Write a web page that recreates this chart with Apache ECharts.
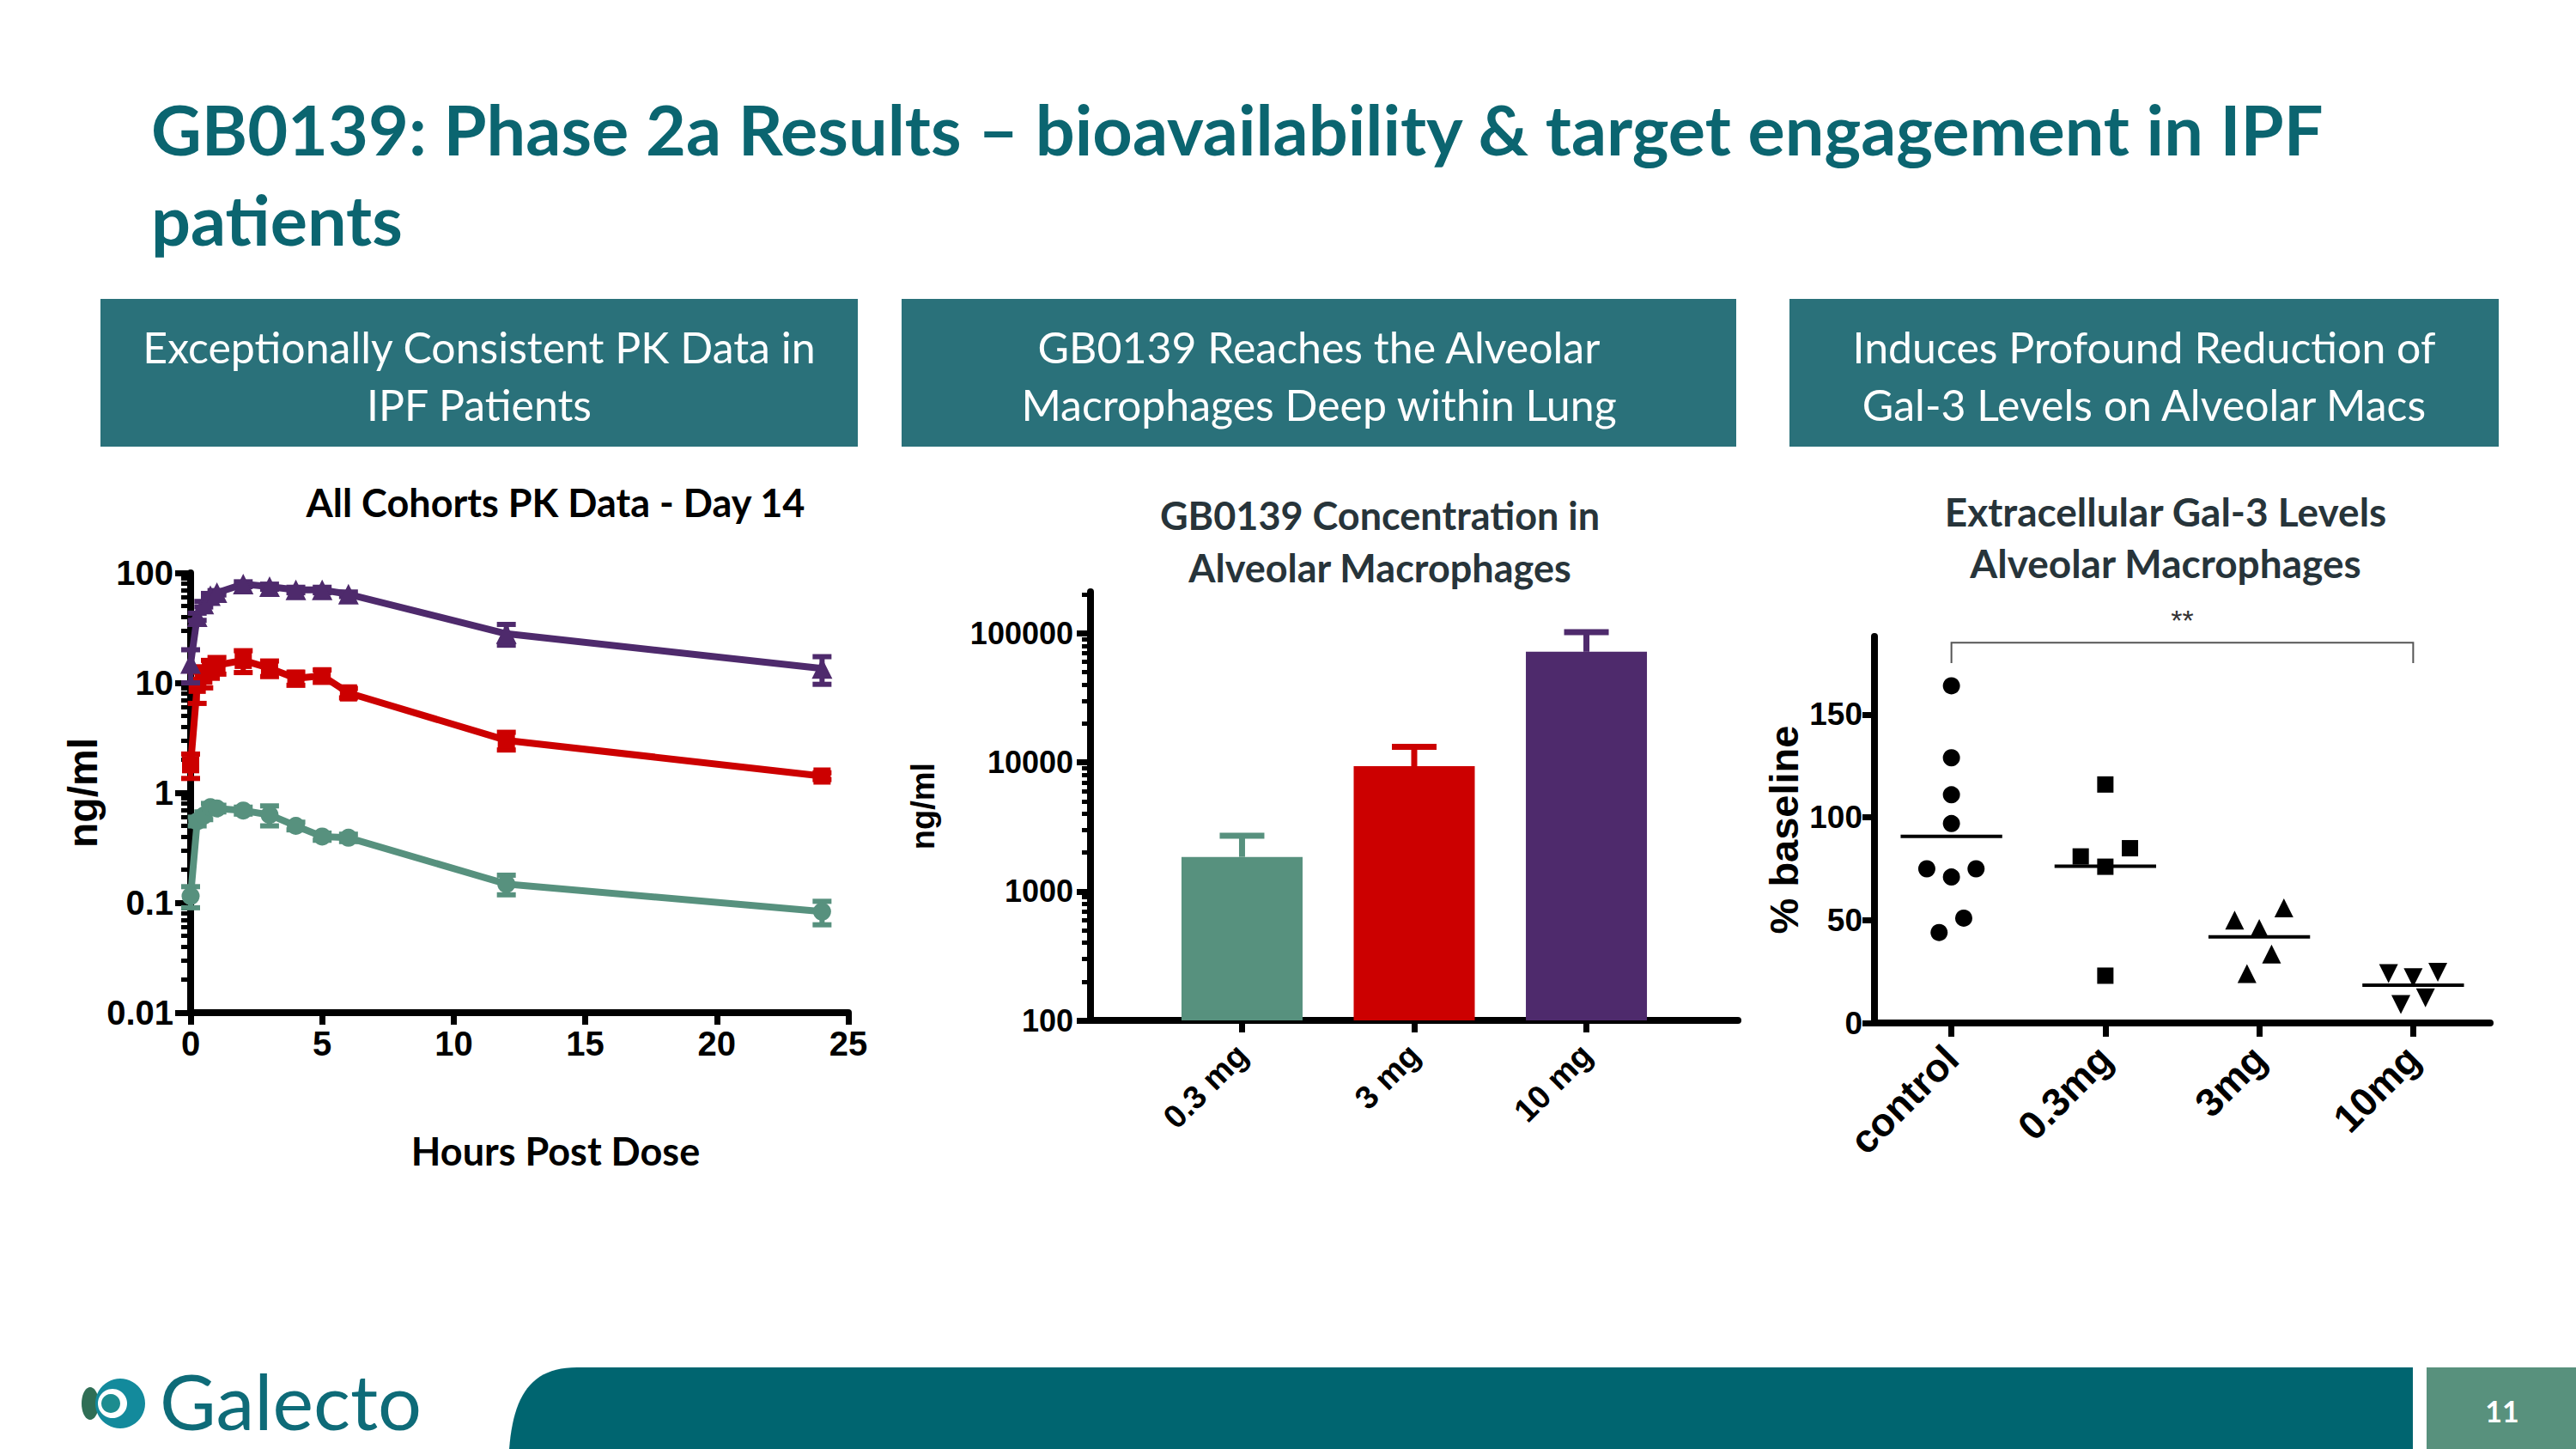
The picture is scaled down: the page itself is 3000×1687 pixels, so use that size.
<!DOCTYPE html>
<html><head><meta charset="utf-8">
<script src="https://cdn.jsdelivr.net/npm/echarts@6/dist/echarts.min.js"></script>
<style>html,body{margin:0;padding:0;background:#fff;}#c{width:3000px;height:1687px;}</style>
</head><body><div id="c"></div>
<script>
// ---------------- DATA ----------------
// PK, Day 14 (ng/ml): mean and SD per cohort
const pkHours   = [0, 0.25, 0.5, 0.75, 1, 2, 3, 4, 5, 6, 12, 24];
const pk10mg    = [15, 40, 52, 62, 66, 79, 75, 70, 70, 64, 28, 13.5];
const pk10mgSD  = [5, 3, 3, 3, 3, 4, 4, 4, 4, 3, 6, 3.8];
const pk3mg     = [1.8, 9.5, 11.5, 13.5, 14.5, 16, 13.6, 11, 11.6, 8.1, 3.0, 1.42];
const pk3mgSD   = [0.45, 3, 2.5, 2.5, 2.5, 3.6, 2.2, 1.5, 1.5, 0.8, 0.55, 0.1];
const pk03mg    = [0.115, 0.55, 0.62, 0.74, 0.72, 0.69, 0.63, 0.50, 0.40, 0.39, 0.148, 0.083];
const pk03mgSD  = [0.025, 0.05, 0.05, 0.06, 0.05, 0.05, 0.13, 0.04, 0.03, 0.03, 0.03, 0.02];
const pkYTicks  = [0.01, 0.1, 1, 10, 100];
const pkXTicks  = [0, 5, 10, 15, 20, 25];

// GB0139 concentration in alveolar macrophages (ng/ml)
const amDoses   = ['0.3 mg', '3 mg', '10 mg'];
const amConc    = [1850, 9350, 72000];
const amSD      = [850, 3850, 30000];
const amYTicks  = [100, 1000, 10000, 100000];

// Extracellular Gal-3 levels (% baseline)
const galGroups  = ['control', '0.3mg', '3mg', '10mg'];
const galControl = [164, 129, 111, 97, 75, 75, 71, 51, 44];
const gal03mg    = [116, 81, 76, 85, 23];
const gal3mg     = [50, 46, 56, 33.5, 24];
const gal10mg    = [24, 22, 24.6, 9, 12.2];
const galYTicks  = [0, 50, 100, 150];
const sigGroups  = [1, 4];
const sigLabel   = '**';

// ---------------- LAYOUT / STYLE ----------------
const AX = '"Liberation Sans", Arial, sans-serif';
const TF = 'Lato, "Open Sans", sans-serif';
const PURPLE = '#4e2a6c', RED = '#cc0000', GREEN = '#57917e';
const TEAL = '#0b6570', BOX = '#2a717a';
const galJitter = [[0,0,0,0,-0.16,0.16,0,0.08,-0.08],[0,-0.16,0,0.16,0],[-0.16,0,0.16,0.08,-0.08],[-0.16,0,0.16,-0.08,0.08]];
const galSets = [galControl, gal03mg, gal3mg, gal10mg];
const galSym = [
  {symbol:'circle', size:20, rot:0},
  {symbol:'rect', size:19, rot:0},
  {symbol:'triangle', size:22, rot:0},
  {symbol:'triangle', size:22, rot:180}
];
const sigY = [175, 185];

function minorLog(lo, hi) {
  const out = [];
  for (let e = Math.floor(Math.log10(lo)); e <= Math.ceil(Math.log10(hi)); e++) {
    for (let k = 2; k <= 9; k++) { const v = k * Math.pow(10, e); if (v > lo && v < hi) out.push(+v.toPrecision(6)); }
  }
  return out;
}
const fmt = v => String(+(+v).toPrecision(6));

function errRender(color, capHalf, lw, both) {
  return function (params, api) {
    const x = api.value(0);
    const lo = api.coord([x, api.value(1)]);
    const hi = api.coord([x, api.value(2)]);
    const st = {stroke: color, lineWidth: lw, lineCap: 'butt'};
    const ch = [
      {type:'line', shape:{x1:lo[0], y1:lo[1], x2:hi[0], y2:hi[1]}, style:st},
      {type:'line', shape:{x1:hi[0]-capHalf, y1:hi[1], x2:hi[0]+capHalf, y2:hi[1]}, style:st}
    ];
    if (both) ch.push({type:'line', shape:{x1:lo[0]-capHalf, y1:lo[1], x2:lo[0]+capHalf, y2:lo[1]}, style:st});
    return {type:'group', children: ch};
  };
}

const axisLineS = {show:true, onZero:false, lineStyle:{color:'#000', width:8}};
const lblS = (size, margin) => ({color:'#000', fontFamily:AX, fontWeight:'bold', fontSize:size, margin});

const G1 = {left:222, top:667, width:766, height:512};
const G2 = {left:1270, top:689, width:754, height:499};
const G3 = {left:2183, top:741, width:717, height:450};
const grid = [G1, G1, G2, G2, G3].map(g => Object.assign({containLabel:false, outerBoundsMode:'none'}, g));

const xAxis = [
  {type:'value', gridIndex:0, min:0, max:25, interval:5,
   axisLine:axisLineS, axisTick:{length:14, customValues:pkXTicks, lineStyle:{color:'#000', width:7}},
   axisLabel:Object.assign(lblS(40, 16), {customValues:pkXTicks}), splitLine:{show:false},
   name:'Hours Post Dose', nameLocation:'middle', nameGap:138,
   nameTextStyle:{fontFamily:TF, fontWeight:'bold', fontSize:45, color:'#000', padding:[0,0,0,84]}},
  {type:'value', gridIndex:1, min:0, max:25, show:false},
  {type:'value', gridIndex:2, min:0.12, max:3.88,
   axisLine:axisLineS, axisTick:{length:14, customValues:[1,2,3], lineStyle:{color:'#000', width:7}},
   axisLabel:Object.assign(lblS(38, 34), {rotate:45, customValues:[1,2,3], formatter: v => amDoses[Math.round(v)-1] || ''}),
   splitLine:{show:false}},
  {type:'value', gridIndex:3, min:0.12, max:3.88, show:false},
  {type:'value', gridIndex:4, min:0.5, max:4.5,
   axisLine:axisLineS, axisTick:{length:16, customValues:[1,2,3,4], lineStyle:{color:'#000', width:7}},
   axisLabel:Object.assign(lblS(46, 34), {rotate:45, customValues:[1,2,3,4], formatter: v => galGroups[Math.round(v)-1] || ''}),
   splitLine:{show:false}}
];

const yAxis = [
  {type:'log', logBase:10, gridIndex:0, min:0.01, max:100,
   axisLine:axisLineS, axisTick:{length:18, customValues:pkYTicks, lineStyle:{color:'#000', width:7}},
   axisLabel:Object.assign(lblS(40, 20), {customValues:pkYTicks, formatter:fmt}), splitLine:{show:false},
   name:'ng/ml', nameLocation:'middle', nameGap:100, nameRotate:90,
   nameTextStyle:{fontFamily:AX, fontWeight:'bold', fontSize:48, color:'#000'}},
  {type:'log', logBase:10, gridIndex:1, min:0.01, max:100,
   axisLine:{show:false}, axisLabel:{show:false}, splitLine:{show:false},
   axisTick:{length:11, customValues:minorLog(0.01, 100), lineStyle:{color:'#000', width:5}}},
  {type:'log', logBase:10, gridIndex:2, min:100, max:210000,
   axisLine:axisLineS, axisTick:{length:16, customValues:amYTicks, lineStyle:{color:'#000', width:7}},
   axisLabel:Object.assign(lblS(36, 20), {customValues:amYTicks, formatter:fmt}), splitLine:{show:false},
   name:'ng/ml', nameLocation:'middle', nameGap:176, nameRotate:90,
   nameTextStyle:{fontFamily:AX, fontWeight:'bold', fontSize:38, color:'#000'}},
  {type:'log', logBase:10, gridIndex:3, min:100, max:210000,
   axisLine:{show:false}, axisLabel:{show:false}, splitLine:{show:false},
   axisTick:{length:10, customValues:minorLog(100, 210000), lineStyle:{color:'#000', width:5}}},
  {type:'value', gridIndex:4, min:0, max:188,
   axisLine:axisLineS, axisTick:{length:14, customValues:galYTicks, lineStyle:{color:'#000', width:7}},
   axisLabel:Object.assign(lblS(37, 14), {customValues:galYTicks}), splitLine:{show:false},
   name:'% baseline', nameLocation:'middle', nameGap:82, nameRotate:90,
   nameTextStyle:{fontFamily:AX, fontWeight:'bold', fontSize:47, color:'#000'}}
];

const series = [];
// PK error bars + lines
[[pk03mg, pk03mgSD, GREEN, 'circle', 21], [pk3mg, pk3mgSD, RED, 'rect', 20], [pk10mg, pk10mgSD, PURPLE, 'triangle', 24]]
.forEach(([vals, sd, color, sym, size], k) => {
  series.push({type:'custom', xAxisIndex:0, yAxisIndex:0, z:2+k*2,
    data: pkHours.map((h, i) => [h, vals[i] - sd[i], vals[i] + sd[i]]),
    encode:{x:0, y:[1,2]}, renderItem: errRender(color, 11, 6, true)});
  series.push({type:'line', xAxisIndex:0, yAxisIndex:0, z:3+k*2,
    data: pkHours.map((h, i) => [h, vals[i]]),
    symbol:sym, symbolSize:size, showSymbol:true,
    lineStyle:{color, width:8}, itemStyle:{color, opacity:1}});
});
// Alveolar macrophage bars
series.push({type:'bar', xAxisIndex:2, yAxisIndex:2, barWidth:141, clip:true,
  data: amConc.map((v, i) => ({value:[i+1, v], itemStyle:{color:[GREEN, RED, PURPLE][i], opacity:1}}))});
series.push({type:'custom', xAxisIndex:2, yAxisIndex:2, z:1,
  data: amConc.map((v, i) => [i+1, v, v + amSD[i]]),
  encode:{x:0, y:[1,2]},
  renderItem: function (params, api) {
    const col = [GREEN, RED, PURPLE][params.dataIndex];
    return errRender(col, 26, 7, false)(params, api);
  }});
// Gal-3 scatter
galSets.forEach((vals, g) => {
  series.push({type:'scatter', xAxisIndex:4, yAxisIndex:4,
    data: vals.map((v, i) => [g + 1 + galJitter[g][i], v]),
    symbol: galSym[g].symbol, symbolSize: galSym[g].size, symbolRotate: galSym[g].rot,
    itemStyle:{color:'#000', opacity:1}});
});
// mean lines
series.push({type:'custom', xAxisIndex:4, yAxisIndex:4,
  data: galSets.map((vals, g) => [g + 1, vals.reduce((a, b) => a + b, 0) / vals.length]),
  encode:{x:0, y:1},
  renderItem: function (params, api) {
    const x = api.value(0), y = api.value(1);
    const a = api.coord([x - 0.33, y]), b = api.coord([x + 0.33, y]);
    return {type:'line', shape:{x1:a[0], y1:a[1], x2:b[0], y2:b[1]}, style:{stroke:'#000', lineWidth:4}};
  }});
// significance bracket
series.push({type:'custom', xAxisIndex:4, yAxisIndex:4, clip:false,
  data: [[sigGroups[0], sigGroups[1], sigY[0], sigY[1]]],
  encode:{x:[0,1], y:[2,3]},
  renderItem: function (params, api) {
    const x1 = api.value(0), x2 = api.value(1), yb = api.value(2), yt = api.value(3);
    const p1 = api.coord([x1, yb]), p2 = api.coord([x1, yt]), p3 = api.coord([x2, yt]), p4 = api.coord([x2, yb]);
    const mid = api.coord([(x1 + x2) / 2, yt]);
    return {type:'group', children:[
      {type:'polyline', shape:{points:[p1, p2, p3, p4]}, style:{stroke:'#555', lineWidth:2, fill:null}},
      {type:'text', x:mid[0], y:mid[1] - 26, style:{text:sigLabel, fill:'#333', font:'34px ' + AX, textAlign:'center', textVerticalAlign:'middle'}}
    ]};
  }});

// ---------------- DECORATION ----------------
function hdrBox(x, w, text) {
  return [
    {type:'rect', shape:{x, y:348, width:w, height:172}, style:{fill:BOX}, silent:true},
    {type:'text', x:x + w/2, y:437, style:{text, fill:'#fff', font:'50px ' + TF, textAlign:'center', textVerticalAlign:'middle', lineHeight:67}}
  ];
}
// footer band outline with curved left edge (cubic bezier sampled)
function footerPts() {
  const P0 = [593, 1687], P1 = [598, 1625], P2 = [618, 1592], P3 = [672, 1592];
  const pts = [];
  for (let i = 0; i <= 24; i++) {
    const t = i / 24, u = 1 - t;
    pts.push([u*u*u*P0[0] + 3*u*u*t*P1[0] + 3*u*t*t*P2[0] + t*t*t*P3[0],
              u*u*u*P0[1] + 3*u*u*t*P1[1] + 3*u*t*t*P2[1] + t*t*t*P3[1]]);
  }
  pts.push([2810, 1592], [2810, 1687]);
  return pts;
}
function ellipsePts(cx, cy, rx, ry) {
  const pts = [];
  for (let i = 0; i < 36; i++) { const a = i / 36 * Math.PI * 2; pts.push([cx + rx * Math.cos(a), cy + ry * Math.sin(a)]); }
  return pts;
}
const graphic = [].concat(
  [{type:'text', x:176, y:97, style:{text:'GB0139: Phase 2a Results \u2013 bioavailability & target engagement in IPF\npatients', fill:TEAL, font:'bold 81px ' + TF, lineHeight:105, textVerticalAlign:'top'}}],
  hdrBox(117, 882, 'Exceptionally Consistent PK Data in\nIPF Patients'),
  hdrBox(1050, 972, 'GB0139 Reaches the Alveolar\nMacrophages Deep within Lung'),
  hdrBox(2084, 826, 'Induces Profound Reduction of\nGal-3 Levels on Alveolar Macs'),
  [
    {type:'text', x:647, y:585, style:{text:'All Cohorts PK Data - Day 14', fill:'#000', font:'bold 45px ' + TF, textAlign:'center', textVerticalAlign:'middle'}},
    {type:'text', x:1607, y:630, style:{text:'GB0139 Concentration in\nAlveolar Macrophages', fill:'#27343a', font:'bold 45px ' + TF, textAlign:'center', textVerticalAlign:'middle', lineHeight:61}},
    {type:'text', x:2522, y:625, style:{text:'Extracellular Gal-3 Levels\nAlveolar Macrophages', fill:'#27343a', font:'bold 46px ' + TF, textAlign:'center', textVerticalAlign:'middle', lineHeight:60}},
    // footer
    {type:'polygon', shape:{points:footerPts()}, style:{fill:'#006570'}, silent:true},
    {type:'rect', shape:{x:2826, y:1592, width:174, height:95}, style:{fill:'#58917d'}, silent:true},
    {type:'text', x:2914, y:1642, style:{text:'11', fill:'#fff', font:'bold 34px ' + TF, textAlign:'center', textVerticalAlign:'middle'}},
    // logo
    {type:'polygon', shape:{points:ellipsePts(105, 1634, 10, 19)}, style:{fill:'#2f6e55'}},
    {type:'circle', shape:{cx:140, cy:1634, r:29}, style:{fill:'#138a9c'}},
    {type:'circle', shape:{cx:131, cy:1634, r:17}, style:{fill:'#ffffff'}},
    {type:'circle', shape:{cx:129, cy:1634, r:11}, style:{fill:'#1c8c8f'}},
    {type:'text', x:186, y:1630, style:{text:'Galecto', fill:'#0e6b78', font:'90px ' + TF, lineHeight:96, textVerticalAlign:'middle'}}
  ]
);

const chart = echarts.init(document.getElementById('c'), null, {renderer:'svg', width:3000, height:1687});
chart.setOption({
  animation:false,
  backgroundColor:'#ffffff',
  textStyle:{fontFamily:AX},
  grid, xAxis, yAxis, series, graphic
});
</script></body></html>
